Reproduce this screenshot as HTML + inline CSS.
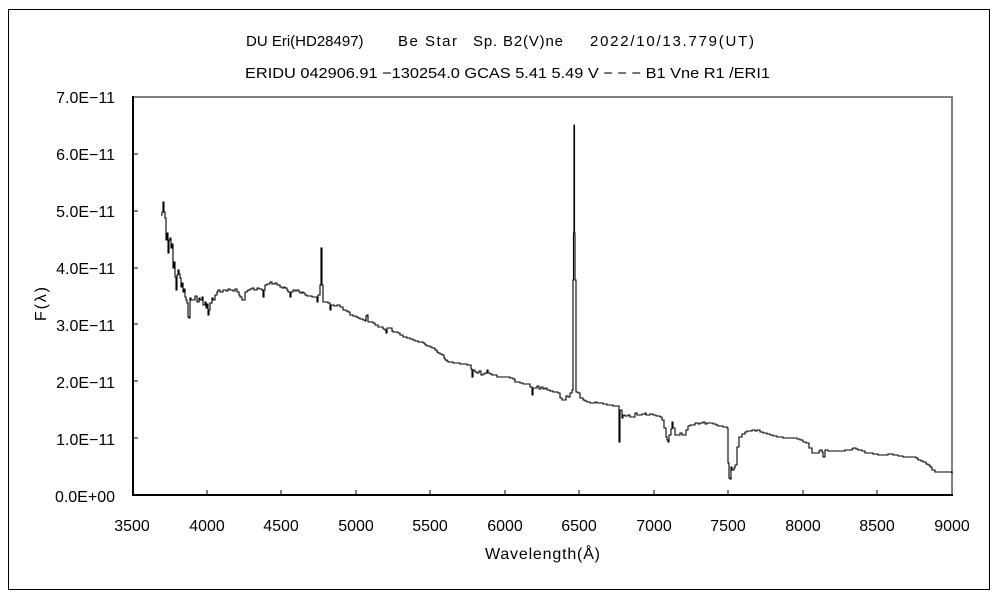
<!DOCTYPE html>
<html><head><meta charset="utf-8"><style>
html,body{margin:0;padding:0;background:#fff;}
svg{display:block;}
text{font-family:"Liberation Sans","IPAGothic",sans-serif;fill:#000;}
</style></head><body>
<svg width="1000" height="600" viewBox="0 0 1000 600" xmlns="http://www.w3.org/2000/svg">
<rect x="0" y="0" width="1000" height="600" fill="#fff"/>
<rect x="8.5" y="9.5" width="981" height="580" fill="none" stroke="#000" stroke-width="1"/>
<!-- titles -->
<g font-size="15">
<text x="246" y="46">DU Eri(HD28497)</text>
<text x="398" y="46" textLength="59" lengthAdjust="spacing">Be Star</text>
<text x="473" y="46" textLength="90" lengthAdjust="spacing">Sp. B2(V)ne</text>
<text x="590" y="46" textLength="164" lengthAdjust="spacing">2022/10/13.779(UT)</text>
<text x="245" y="78" textLength="525" lengthAdjust="spacingAndGlyphs">ERIDU 042906.91 −130254.0 GCAS 5.41 5.49 V − − − B1 Vne R1 /ERI1</text>
</g>
<!-- frame -->
<g shape-rendering="crispEdges">
<line x1="132" y1="97" x2="953" y2="97" stroke="#808080" stroke-width="2"/>
<line x1="952" y1="96" x2="952" y2="496" stroke="#808080" stroke-width="2"/>
<line x1="133" y1="96" x2="133" y2="496" stroke="#000" stroke-width="2"/>
<line x1="132" y1="495" x2="953" y2="495" stroke="#000" stroke-width="2"/>
<g stroke="#000" stroke-width="1">
<line x1="207" y1="495" x2="207" y2="490"/>
<line x1="281" y1="495" x2="281" y2="490"/>
<line x1="356" y1="495" x2="356" y2="490"/>
<line x1="430" y1="495" x2="430" y2="490"/>
<line x1="505" y1="495" x2="505" y2="490"/>
<line x1="579" y1="495" x2="579" y2="490"/>
<line x1="654" y1="495" x2="654" y2="490"/>
<line x1="728" y1="495" x2="728" y2="490"/>
<line x1="803" y1="495" x2="803" y2="490"/>
<line x1="877" y1="495" x2="877" y2="490"/>
<line x1="133" y1="438" x2="138" y2="438"/>
<line x1="133" y1="381" x2="138" y2="381"/>
<line x1="133" y1="324" x2="138" y2="324"/>
<line x1="133" y1="268" x2="138" y2="268"/>
<line x1="133" y1="211" x2="138" y2="211"/>
<line x1="133" y1="154" x2="138" y2="154"/>
</g>
</g>
<!-- y labels -->
<g font-size="16" text-anchor="end">
<text x="115" y="103">7.0E−11</text>
<text x="115" y="160">6.0E−11</text>
<text x="115" y="217">5.0E−11</text>
<text x="115" y="274">4.0E−11</text>
<text x="115" y="331">3.0E−11</text>
<text x="115" y="388">2.0E−11</text>
<text x="115" y="445">1.0E−11</text>
<text x="115" y="502">0.0E+00</text>
</g>
<!-- x labels -->
<g font-size="16" text-anchor="middle">
<text x="132" y="531">3500</text>
<text x="207" y="531">4000</text>
<text x="281" y="531">4500</text>
<text x="356" y="531">5000</text>
<text x="430" y="531">5500</text>
<text x="505" y="531">6000</text>
<text x="579" y="531">6500</text>
<text x="654" y="531">7000</text>
<text x="728" y="531">7500</text>
<text x="803" y="531">8000</text>
<text x="877" y="531">8500</text>
<text x="952" y="531">9000</text>
</g>
<text x="485" y="559" font-size="16" textLength="115" lengthAdjust="spacing">Wavelength(Å)</text>
<text x="0" y="0" font-size="16" transform="translate(46,321) rotate(-90)" textLength="34" lengthAdjust="spacing">F(λ)</text>
<!-- spectrum -->
<path fill="none" stroke="#000" stroke-width="1.1" stroke-linejoin="miter" d="M161 215
H162V212H163V202H164V212H165V218H166V240H167V233H168V253H169V240H170V238H171V248H172V244H173V268H174V262H175V277H176V290H177V275H178V270H179V274H180V278H181V287H182V283H183V292H184V289H185V297H186V300H187V303H188V317H189V318H190V298H191V300H193V300H195V296H197V302H199V298H200V300H202V297H203V305H205V302H206V308H207V304H208V315H209V310H210V303H212V298H213V300H215V295H217V292H218V290H220V292H223V290H226V291H228V289H230V290H233V291H235V289H237V292H239V295H240V297H242V300H243V300H245V292H247V291H248V290H250V289H252V288H254V290H257V288H259V289H262V290H263V297H264V290H265V285H267V284H270V282H272V284H275V283H277V285H278V285H280V287H282V288H284V287H285V288H287V290H288V292H290V297H291V292H293V290H295V291H297V290H299V292H300V293H302V292H303V293H305V295H307V296H310V296H312V297H315V297H317V302H318V295H320V285H321V248H322V285H323V302
H325V302H328V303H330V310H331V305H334V306H337V305H340V307H343V310H346V311H348V312H350V315H353V316H356V317H358V318H360V319H363V320H365V321H366V316H367V315H368V322H370V322H373V323H375V325H378V327H380V327H383V329H385V330H386V333H387V328H390V328H392V331H393V332H396V332H398V333H400V335H403V337H405V337H407V338H410V339H413V340H415V341H418V342H420V342H423V343H425V345H427V346H430V347H432V348H435V350H437V352H438V353H440V354H442V355H444V358H445V360H447V361H448V362H450V362H453V363H456V363H460V364H463V364H467V365H470V365H471V369H472V377H473V370H475V372H477V373H479V371H481V375H483V374H485V373H487V370H488V373H490V374H492V375H494V375H497V377H500V377H503V377H506V377H510V378H513V379H515V382H517V382H520V383H523V384H527V384H529V384H530V387H532V395H533V388H535V388H537V386H539V389H541V387H543V389H545V388H547V390H550V391H553V392H556V392H558V393H560V398H562V400H565V400H566V396H568V397H570V393H572V390H573V280H573.5V233H574V125H574.5V233H575V280H576V392H578V393H580V398H583V400H585V401H587V402H590V403H592V403H595V402H597V403H600V403H603V404H607V405H610V405H613V406H616V406H618V406H619V442H620V410H621V410H622V418H623V415H625V416H628V415H630V417H632V417H635V413H637V415H640V415H642V414H645V413H646V415H648V415H650V414H653V415H656V416H660V417H662V420H664V428H666V437H667V440H668V442H669V435H671V429H672V422H673V428H675V435H678V435H680V433H682V435H685V435H686V430H688V426H690V425H693V425H695V423H698V424H700V423H703V422H705V424H707V423H710V423H713V424H716V425H718V426H720V426H723V427H725V427H727V428H728V463H729V478H730V479H731V467H732V470H734V468H735V465H737V447H739V437H742V434H745V432H747V431H750V431H752V430H755V431H757V430H760V432H763V433H767V434H770V435H773V436H777V437H780V437H783V438H787V438H790V438H793V438H797V439H800V440H803V442H806V443H807V443H809V448H812V453H815V453H817V453H819V451H820V450H822V452H823V457H825V450H828V451H830V451H835V451H840V451H845V450H848V450H852V449H853V448H856V449H858V450H862V451H865V453H870V453H873V454H878V455H883V455H888V454H893V455H898V456H903V457H908V457H913V457H916V458H918V460H921V461H923V462H926V464H928V465H930V467H932V470H935V472H940V472H943V472H947V472H952V473"/>
</svg>
</body></html>
